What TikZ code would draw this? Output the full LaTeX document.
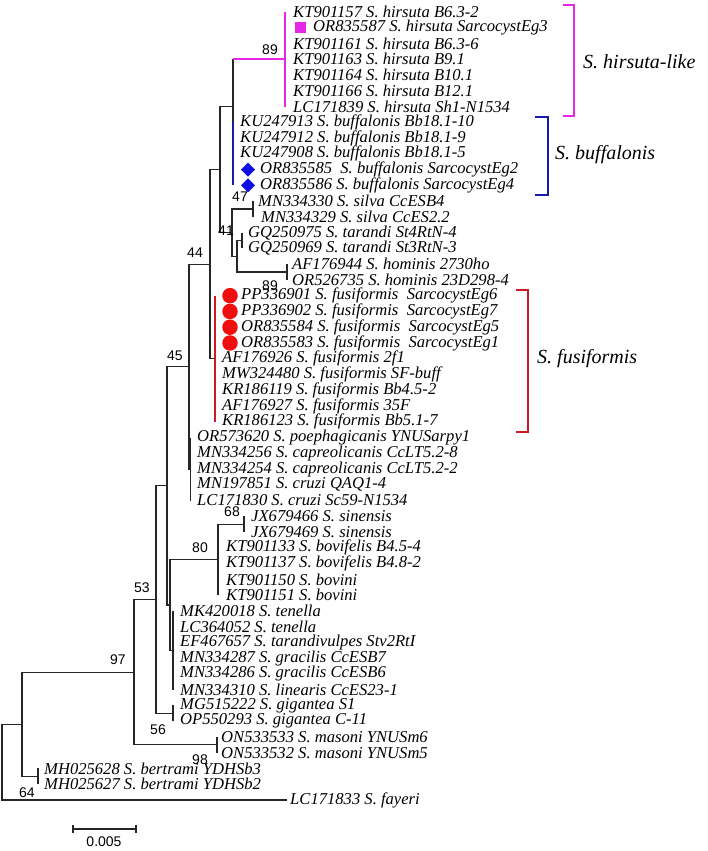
\documentclass[tikz,border=0pt]{standalone}
\usepackage{fontspec}
\usetikzlibrary{shapes.geometric}
\setmainfont{Liberation Serif}
\newfontfamily\bsfont{Liberation Sans}
\definecolor{hircol}{RGB}{230,40,230}
\definecolor{bufcol}{RGB}{25,25,175}
\definecolor{fuscol}{RGB}{205,25,35}
\definecolor{dotred}{RGB}{240,15,15}
\definecolor{diablue}{RGB}{15,15,225}
\begin{document}
\begin{tikzpicture}[x=1pt,y=-1pt,
    branch/.style={line width=1.1pt,black!85},
    leaf/.style={anchor=west,inner sep=0pt,font=\fontsize{16.6}{16}\selectfont\itshape},
    bs/.style={inner sep=0pt,font=\bsfont\fontsize{14}{14}\selectfont},
    grp/.style={anchor=west,inner sep=0pt,font=\fontsize{20}{20}\selectfont\itshape},
    bracket/.style={line width=2.4pt}]
    \useasboundingbox (0,0) rectangle (708,851);

    % leaves: accession / tip x / label x / text
    \foreach \acc/\tx/\lx/\txt [count=\i] in {
        KT901157/285/293/{S. hirsuta B6.3-2},
        OR835587/285/313/{S. hirsuta SarcocystEg3},
        KT901161/285/293/{S. hirsuta B6.3-6},
        KT901163/285/293/{S. hirsuta B9.1},
        KT901164/285/293/{S. hirsuta B10.1},
        KT901166/285/293/{S. hirsuta B12.1},
        LC171839/285/293/{S. hirsuta Sh1-N1534},
        KU247913/233/240/{S. buffalonis Bb18.1-10},
        KU247912/233/240/{S. buffalonis Bb18.1-9},
        KU247908/233/240/{S. buffalonis Bb18.1-5},
        OR835585/233/260/{\ S. buffalonis SarcocystEg2},
        OR835586/233/260/{S. buffalonis SarcocystEg4},
        MN334330/253/258/{S. silva CcESB4},
        MN334329/253/261/{S. silva CcES2.2},
        GQ250975/242/248/{S. tarandi St4RtN-4},
        GQ250969/242/248/{S. tarandi St3RtN-3},
        AF176944/287/292/{S. hominis 2730ho},
        OR526735/287/292/{S. hominis 23D298-4},
        PP336901/215/241/{S. fusiformis\ \ SarcocystEg6},
        PP336902/215/241/{S. fusiformis\ \ SarcocystEg7},
        OR835584/215/241/{S. fusiformis\ \ SarcocystEg5},
        OR835583/215/241/{S. fusiformis\ \ SarcocystEg1},
        AF176926/215/222/{S. fusiformis 2f1},
        MW324480/215/222/{S. fusiformis SF-buff},
        KR186119/215/222/{S. fusiformis Bb4.5-2},
        AF176927/215/222/{S. fusiformis 35F},
        KR186123/215/222/{S. fusiformis Bb5.1-7},
        OR573620/190.5/197/{S. poephagicanis YNUSarpy1},
        MN334256/190.5/197/{S. capreolicanis CcLT5.2-8},
        MN334254/190.5/197/{S. capreolicanis CcLT5.2-2},
        MN197851/190.5/197/{S. cruzi QAQ1-4},
        LC171830/190.5/197/{S. cruzi Sc59-N1534},
        JX679466/244/251/{S. sinensis},
        JX679469/244/251/{S. sinensis},
        KT901133/218/226/{S. bovifelis B4.5-4},
        KT901137/218/226/{S. bovifelis B4.8-2},
        KT901150/218/226/{S. bovini},
        KT901151/218/226/{S. bovini},
        MK420018/173/180/{S. tenella},
        LC364052/173/180/{S. tenella},
        EF467657/173/180/{S. tarandivulpes Stv2RtI},
        MN334287/173/180/{S. gracilis CcESB7},
        MN334286/173/180/{S. gracilis CcESB6},
        MN334310/173/180/{S. linearis CcES23-1},
        MG515222/173/180/{S. gigantea S1},
        OP550293/173/180/{S. gigantea C-11},
        ON533533/217/221/{S. masoni YNUSm6},
        ON533532/217/221/{S. masoni YNUSm5},
        MH025628/38/44/{S. bertrami YDHSb3},
        MH025627/38/44/{S. bertrami YDHSb2},
        LC171833/287/290/{S. fayeri}}{
        \coordinate (\acc) at (\tx,{12+(\i-1)*15.76});
        \node[leaf] (\acc-lab) at (\lx,{12+(\i-1)*15.76}) {\acc\ \txt};
    }

    % inner nodes
    \coordinate (root) at (2,762);
    \coordinate (nin) at (22,724.3);
    \coordinate (n64) at (38,776.3);
    \coordinate (n97) at (134,672.2);
    \coordinate (n98) at (217,744.9);
    \coordinate (n53) at (156,599.6);
    \coordinate (n56) at (173,713.3);
    \coordinate (nmid) at (167,485.8);
    \coordinate (nlow) at (170,605);
    \coordinate (nten) at (173,650.3);
    \coordinate (n80) at (218,559.7);
    \coordinate (n68) at (244,524.2);
    \coordinate (n45) at (189,366.6);
    \coordinate (ncru) at (190.5,469);
    \coordinate (n44) at (210,264.2);
    \coordinate (nfus) at (215,358.7);
    \coordinate (nup) at (220,169.6);
    \coordinate (nhb) at (233,106.6);
    \coordinate (nbuf) at (233,153.9);
    \coordinate (nhir) at (285,59.3);
    \coordinate (n47) at (232,232.7);
    \coordinate (nsil) at (253,209);
    \coordinate (n41) at (237,256.3);
    \coordinate (ntar) at (242,240.5);
    \coordinate (nhom) at (287,272);

    % branches
    \draw[branch] (root) |- (nin);
    \draw[branch] (root) |- (LC171833);
    \draw[branch] (nin) |- (n97);
    \draw[branch] (nin) |- (n64);
    \draw[branch] (MH025628) -- (MH025627);
    \draw[branch] (n97) |- (n53);
    \draw[branch] (n97) |- (n98);
    \draw[branch] (ON533533) -- (ON533532);
    \draw[branch] (n53) |- (nmid);
    \draw[branch] (n53) |- (n56);
    \draw[branch] (MG515222) -- (OP550293);
    \draw[branch] (nmid) |- (n45);
    \draw[branch] (nmid) |- (nlow);
    \draw[branch] (nlow) |- (n80);
    \draw[branch] (nlow) |- (nten);
    \draw[branch] (MK420018) -- (MN334310);
    \draw[branch] (n80) |- (n68);
    \draw[branch] (n80) |- (KT901151);
    \draw[branch] (JX679466) -- (JX679469);
    \draw[branch] (n45) |- (n44);
    \draw[branch] (n45) |- (ncru);
    \draw[branch] (OR573620) -- (LC171830);
    \draw[branch] (n44) |- (nup);
    \draw[branch] (n44) |- (nfus);
    \draw[branch] (nup) |- (nhb);
    \draw[branch] (nup) |- (n47);
    \draw[branch] (n47) |- (nsil);
    \draw[branch] (n47) |- (n41);
    \draw[branch] (MN334330) -- (MN334329);
    \draw[branch] (n41) |- (ntar);
    \draw[branch] (n41) |- (nhom);
    \draw[branch] (GQ250975) -- (GQ250969);
    \draw[branch] (AF176944) -- (OR526735);
    \draw[branch] (nhb) -- (nbuf);
    \draw[branch] (nhb) -- (nhb |- nhir);
    \draw[line width=1.8pt,hircol] (nhb |- nhir) -- (nhir);
    \draw[line width=1.8pt,hircol] (KT901157) -- (LC171839);
    \draw[line width=1.8pt,bufcol] (KU247913) -- (OR835586);
    \draw[line width=1.8pt,fuscol] (PP336901) -- (KR186123);

    % markers
    \node[fill=hircol,minimum size=11pt,inner sep=0pt] (sq3) at ([xshift=-13]OR835587-lab.west) {};
    \foreach \acc in {OR835585,OR835586}
        \node[diamond,fill=diablue,minimum size=14pt,inner sep=0pt] (dm-\acc) at ([xshift=-12]\acc-lab.west) {};
    \foreach \acc in {PP336901,PP336902,OR835584,OR835583}
        \node[circle,fill=dotred,minimum size=15.5pt,inner sep=0pt] (dot-\acc) at ([xshift=-11]\acc-lab.west) {};

    % bootstrap values
    \node[bs] (b89a) at (270,50) {89};
    \node[bs] (b47) at (240,197) {47};
    \node[bs] (b41) at (226,231) {41};
    \node[bs] (b44) at (195,253) {44};
    \node[bs] (b89b) at (270,286) {89};
    \node[bs] (b45) at (175,356) {45};
    \node[bs] (b68) at (232,512) {68};
    \node[bs] (b80) at (200,548) {80};
    \node[bs] (b53) at (142,588) {53};
    \node[bs] (b97) at (118,660) {97};
    \node[bs] (b56) at (158,730) {56};
    \node[bs] (b98) at (200,760) {98};
    \node[bs] (b64) at (27,793) {64};

    % groups
    \coordinate (hirT) at (574,5);
    \coordinate (hirB) at (574,116);
    \draw[bracket,hircol] ([xshift=-11]hirT) -- (hirT) -- (hirB) -- ([xshift=-11]hirB);
    \node[grp] (ghir) at (583,62) {S. hirsuta-like};
    \coordinate (bufT) at (548,117);
    \coordinate (bufB) at (548,195);
    \draw[bracket,bufcol] ([xshift=-13]bufT) -- (bufT) -- (bufB) -- ([xshift=-13]bufB);
    \node[grp] (gbuf) at (555,155) {S. buffalonis};
    \coordinate (fusT) at (528,290);
    \coordinate (fusB) at (528,432);
    \draw[bracket,fuscol] ([xshift=-12]fusT) -- (fusT) -- (fusB) -- ([xshift=-12]fusB);
    \node[grp] (gfus) at (537,359) {S. fusiformis};

    % scale bar
    \coordinate (sbL) at (73,829);
    \coordinate (sbR) at (136,829);
    \draw[branch] (sbL) -- (sbR);
    \draw[branch] ([yshift=-4]sbL) -- ([yshift=4]sbL);
    \draw[branch] ([yshift=-4]sbR) -- ([yshift=4]sbR);
    \node[bs] (sblab) at (104,842) {0.005};
\end{tikzpicture}
\end{document}
